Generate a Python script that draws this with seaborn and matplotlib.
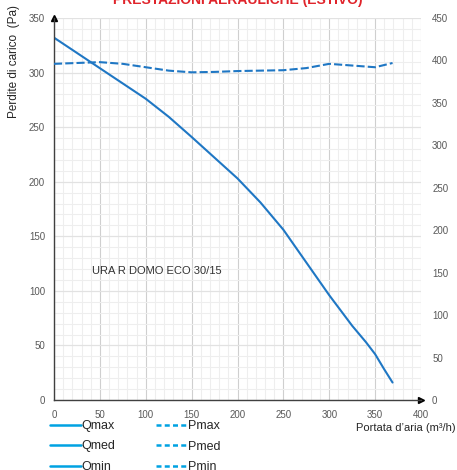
import numpy as np
import pandas as pd
import matplotlib
matplotlib.use("Agg")
import matplotlib.pyplot as plt
from matplotlib.lines import Line2D
from matplotlib.ticker import MultipleLocator
import seaborn as sns

# ---- data ----
q_flow = [0, 25, 50, 75, 100, 125, 150, 175, 200, 225, 250, 275, 300, 325, 340, 350, 360, 369]
q_pressure = [332, 318, 304, 290, 276, 259.5, 241, 222, 203, 181, 156, 126, 96, 68, 53, 42, 28, 16]

p_flow = [0, 25, 50, 75, 100, 125, 150, 175, 200, 225, 250, 275, 300, 325, 350, 369]
p_power = [396, 397, 398, 396, 392, 388, 386, 386.5, 387.5, 388, 388.5, 391, 396, 394, 392, 397]

legend_solid = ["Qmax", "Qmed", "Qmin"]
legend_dashed = ["Pmax", "Pmed", "Pmin"]

left_ticks = list(range(0, 351, 50))
right_ticks = list(range(0, 451, 50))
x_ticks = list(range(0, 401, 50))

title = "PRESTAZIONI AERAULICHE (ESTIVO)"
model = "URA R DOMO ECO 30/15"

# ---- style ----
sns.set_style("white")
plt.rcParams["font.family"] = ["Liberation Sans", "DejaVu Sans"]

line_col = "#1f77c4"
leg_col = "#00a2e2"
tick_col = "#595959"

W, H = 457, 470
fig = plt.figure(figsize=(W / 100, H / 100), dpi=100)
ax = fig.add_axes([54 / W, (H - 400) / H, (421 - 54) / W, (400 - 18) / H])
ax2 = ax.twinx()

dq = pd.DataFrame({"flow": q_flow, "pressure": q_pressure})
dp = pd.DataFrame({"flow": p_flow, "power": p_power})

# grid
ax.set_xlim(0, 400)
ax.set_ylim(0, 350)
ax2.set_ylim(0, 450)
ax.xaxis.set_major_locator(MultipleLocator(50))
ax.yaxis.set_major_locator(MultipleLocator(50))
ax.xaxis.set_minor_locator(MultipleLocator(10))
ax.yaxis.set_minor_locator(MultipleLocator(10))
ax.grid(which="minor", color="#eeeeee", lw=0.8)
ax.grid(which="major", axis="x", color="#cfcfcf", lw=0.8)
ax.grid(which="major", axis="y", color="#e2e2e2", lw=0.9)
ax.set_axisbelow(True)

sns.lineplot(data=dq, x="flow", y="pressure", ax=ax, color=line_col, lw=1.5)
sns.lineplot(data=dp, x="flow", y="power", ax=ax2, color=line_col, lw=1.5,
             linestyle=(0, (3.9, 1.5)))

ax.set_xticks(x_ticks)
ax.set_yticks(left_ticks)
ax2.set_yticks(right_ticks)
ax.set_xlabel("")
ax.set_ylabel("")
ax2.set_ylabel("")

for a in (ax, ax2):
    a.tick_params(which="both", length=0, labelsize=7, labelcolor=tick_col)
ax.tick_params(axis="x", pad=7)
ax.tick_params(axis="y", pad=6.5)
ax2.tick_params(axis="y", pad=8)

for s in ("top", "right"):
    ax.spines[s].set_visible(False)
    ax2.spines[s].set_visible(False)
ax2.spines["left"].set_visible(False)
ax2.spines["bottom"].set_visible(False)
ax.spines["left"].set_color("#404040")
ax.spines["bottom"].set_color("#404040")
ax.spines["left"].set_linewidth(1.0)
ax.spines["bottom"].set_linewidth(1.0)
ax.plot(1, 0, ">", color="black", ms=4, transform=ax.transAxes, clip_on=False)
ax.plot(0, 1, "^", color="black", ms=4, transform=ax.transAxes, clip_on=False)

ax.text(41.5, 118, model, fontsize=8, color="#333333", va="center", ha="left")

fig.text(238 / W, (H - 4) / H, title, color="#e0242b", fontsize=10,
         fontweight="bold", ha="center", va="baseline")
fig.text(14 / W, (H - 5) / H, "Perdite di carico  (Pa)", rotation=90,
         fontsize=8.5, color="#262626", ha="center", va="top")
fig.text(456 / W, (H - 428) / H, "Portata d\u2019aria (m\u00b3/h)",
         fontsize=8, color="#262626", ha="right", va="center")

handles = [Line2D([], [], color=leg_col, lw=1.8) for _ in legend_solid] + \
          [Line2D([], [], color=leg_col, lw=1.8, linestyle=(0, (2, 1.3))) for _ in legend_dashed]
fig.legend(handles, legend_solid + legend_dashed, ncol=2, frameon=False,
           loc="upper left", bbox_to_anchor=(45 / W, (H - 415) / H),
           fontsize=9, handlelength=2.45, handletextpad=0.1,
           labelspacing=0.68, columnspacing=3.2, borderaxespad=0)

fig.savefig("out.png", dpi=100)
